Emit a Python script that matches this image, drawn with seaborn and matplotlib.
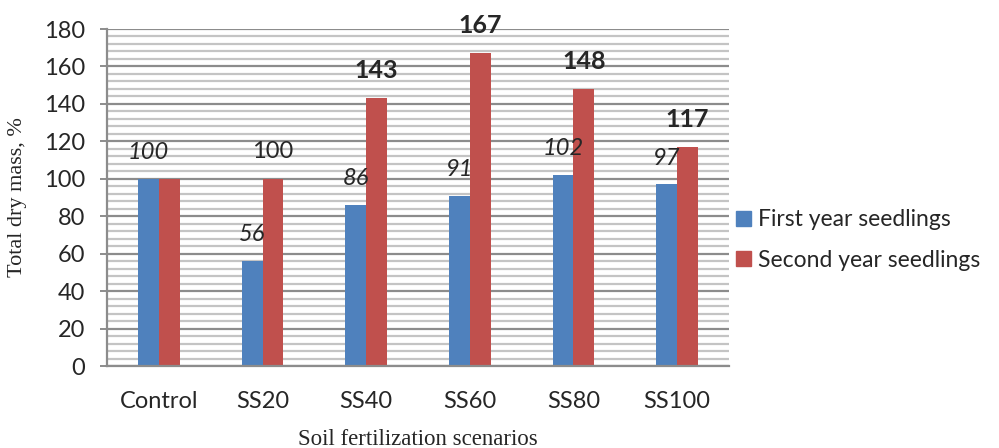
import matplotlib
matplotlib.use("Agg")
import matplotlib.pyplot as plt
import matplotlib.patches as mpatches
import seaborn as sns
import pandas as pd
import numpy as np

# Data
scenarios = ["Control", "SS20", "SS40", "SS60", "SS80", "SS100"]
first_year = [100, 56, 86, 91, 102, 97]
second_year = [100, 100, 143, 167, 148, 117]
series_names = ["First year seedlings", "Second year seedlings"]
# which second-year values get a label, and its style
second_labels = [None, "normal", "bold", "bold", "bold", "bold"]

blue = "#4F81BD"
red = "#C0504D"

df = pd.DataFrame({
    "scenario": scenarios * 2,
    "value": first_year + second_year,
    "series": [series_names[0]] * len(scenarios) + [series_names[1]] * len(scenarios),
})

sns.set_style("white")
plt.rcParams["font.family"] = ["Lato", "DejaVu Sans"]

W, H = 999, 448
fig = plt.figure(figsize=(W / 100, H / 100), dpi=100)
ax = fig.add_axes([107 / W, 1 - 366 / H, (729 - 107) / W, (366 - 29) / H])

sns.barplot(data=df, x="scenario", y="value", hue="series", order=scenarios,
            hue_order=series_names, palette=[blue, red], width=0.4,
            linewidth=0, saturation=1, legend=False, ax=ax)

ax.set_xlim(-0.5, len(scenarios) - 0.5)
ax.set_ylim(0, 180)
ax.set_yticks(np.arange(0, 181, 20))
ax.set_yticks(np.arange(0, 181, 4), minor=True)

# gridlines: darker major, lighter minor
ax.set_axisbelow(True)
ax.grid(which="minor", axis="y", color="#C4C4C4", linewidth=1.6)
ax.grid(which="major", axis="y", color="#8C8C8C", linewidth=1.6)
ax.grid(which="major", axis="x", visible=False)

for s in ["top", "right"]:
    ax.spines[s].set_visible(False)
for s in ["left", "bottom"]:
    ax.spines[s].set_color("#8C8C8C")
    ax.spines[s].set_linewidth(1.6)

ax.tick_params(axis="y", which="major", length=5, width=1.4, color="#8C8C8C",
               pad=11, labelsize=17, left=True)
ax.tick_params(axis="y", which="minor", length=0)
ax.tick_params(axis="x", length=0, pad=18, labelsize=17)

ax.set_xlabel("Soil fertilization scenarios", family="Liberation Serif", fontsize=16.5, labelpad=12)
ax.set_ylabel("Total dry mass, %", family="Liberation Serif", fontsize=16, labelpad=12)

# value labels
bars_first = ax.containers[0]
bars_second = ax.containers[1]
for bar, v in zip(bars_first, first_year):
    cx = bar.get_x() + bar.get_width() / 2
    ax.annotate(f"{v}", (cx, v), xytext=(0, 19), textcoords="offset points",
                ha="center", va="center", fontsize=17, style="italic")
for bar, v, st in zip(bars_second, second_year, second_labels):
    if st is None:
        continue
    cx = bar.get_x() + bar.get_width() / 2
    ax.annotate(f"{v}", (cx, v), xytext=(0, 20), textcoords="offset points",
                ha="center", va="center", fontsize=18 if st == "bold" else 17,
                fontweight="bold" if st == "bold" else "normal")

handles = [mpatches.Patch(color=blue, label=series_names[0]),
           mpatches.Patch(color=red, label=series_names[1])]
fig.legend(handles=handles, loc="center left", bbox_to_anchor=(736 / W, 1 - 240 / H),
           frameon=False, fontsize=16.5, handlelength=0.65, handleheight=0.65,
           handletextpad=0.3, labelspacing=0.85, borderaxespad=0, borderpad=0)

fig.savefig("out.png", dpi=100)
